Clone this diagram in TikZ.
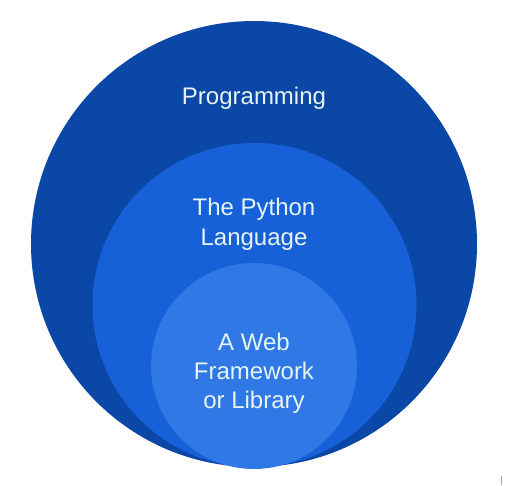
\documentclass[tikz,border=0pt]{standalone}
\usepackage{fontspec}
\setmainfont{Liberation Sans}
\definecolor{outerblue}{HTML}{0B47A6}
\definecolor{midblue}{HTML}{1761D8}
\definecolor{innerblue}{HTML}{3078E6}
\definecolor{labeltext}{HTML}{E6F4F4}
\tikzset{
  ring/.style={circle, draw=none, inner sep=0pt},
  lbl/.style={text=labeltext, align=center, font=\fontsize{24}{30}\selectfont, inner sep=0pt}
}
\begin{document}
\begin{tikzpicture}[x=1pt,y=-1pt]
\fill[white] (0,0) rectangle (509,485);
\useasboundingbox (0,0) rectangle (509,485);
\node[ring, fill=outerblue, minimum size=446pt] (outer) at (254,244) {};
\node[ring, fill=midblue, minimum size=324pt] (mid) at (254.5,305) {};
\node[ring, fill=innerblue, minimum size=206pt] (inner) at (254,366) {};
\node[lbl, anchor=base] (prog) at (254,104) {Programming};
\node[lbl, anchor=base] (py1) at (254,215) {The Python};
\node[lbl, anchor=base] (py2) at (254,245) {Language};
\node[lbl, anchor=base] (web1) at (254,350) {A Web};
\node[lbl, anchor=base] (web2) at (254,379) {Framework};
\node[lbl, anchor=base] (web3) at (254,408) {or Library};
\draw[gray!70, line width=0.6pt] (501,476) -- (501,485);
\end{tikzpicture}
\end{document}
